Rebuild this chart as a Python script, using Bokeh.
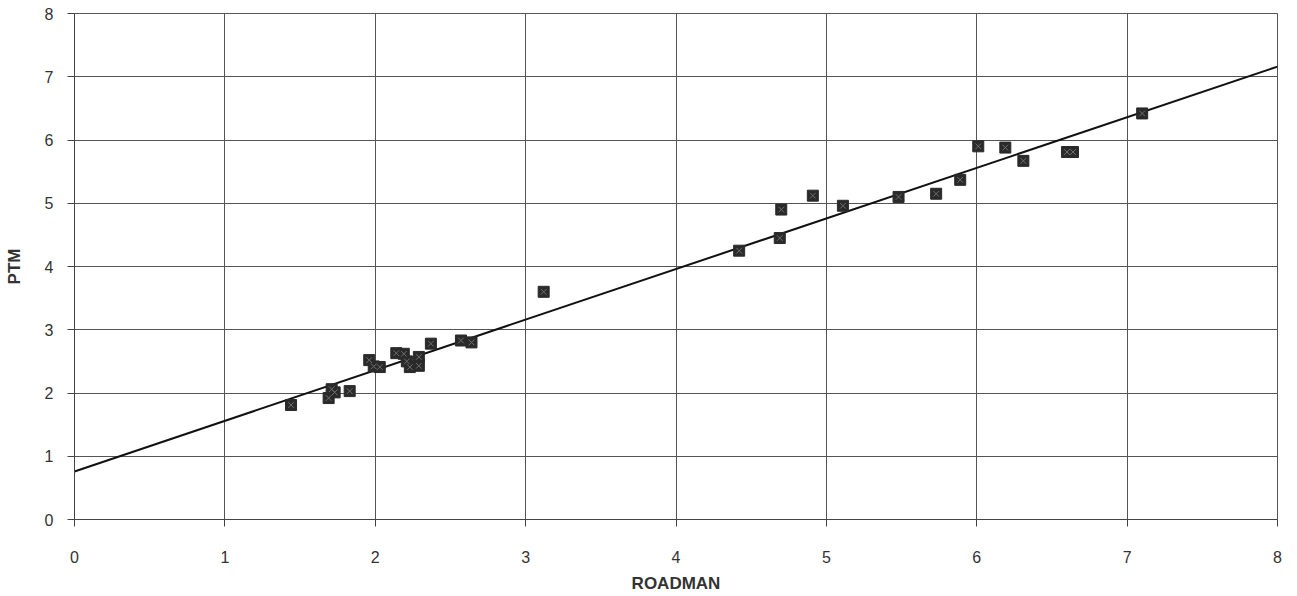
from bokeh.plotting import figure
from bokeh.models import Range1d, FixedTicker
from bokeh.embed import file_html
from bokeh.resources import INLINE

# Data
roadman = [1.44, 1.69, 1.71, 1.73, 1.83, 1.96, 1.99, 2.03, 2.14, 2.19, 2.21, 2.23,
           2.29, 2.29, 2.37, 2.57, 2.64, 3.12, 4.42, 4.69, 4.70, 4.91, 5.11, 5.48,
           5.73, 5.89, 6.01, 6.19, 6.31, 6.60, 6.64, 7.10]
ptm = [1.81, 1.92, 2.06, 2.01, 2.03, 2.52, 2.42, 2.41, 2.63, 2.62, 2.50, 2.41,
       2.57, 2.43, 2.78, 2.83, 2.80, 3.60, 4.25, 4.45, 4.90, 5.12, 4.96, 5.10,
       5.15, 5.37, 5.90, 5.88, 5.67, 5.81, 5.81, 6.42]
trend_intercept = 0.76
trend_slope = 0.80
trend_x = [0, 8]
axis_ticks = [0, 1, 2, 3, 4, 5, 6, 7, 8]

p = figure(width=1285, height=596, output_backend="svg", toolbar_location=None,
           x_range=Range1d(0, 8), y_range=Range1d(0, 8))
p.min_border_left = 74
p.min_border_right = 8
p.min_border_top = 13
p.min_border_bottom = 77
p.background_fill_color = "white"
p.border_fill_color = "white"
p.outline_line_color = "#555555"
p.outline_line_width = 1

for ax in (p.xaxis[0], p.yaxis[0]):
    ax.ticker = FixedTicker(ticks=axis_ticks)
    ax.minor_tick_line_color = None
    ax.major_tick_in = 0
    ax.major_tick_out = 7
    ax.major_tick_line_color = "#444444"
    ax.axis_line_color = "#444444"
    ax.major_label_text_font = "Liberation Sans"
    ax.major_label_text_font_size = "16px"
    ax.major_label_text_color = "#333333"
    ax.axis_label_text_font = "Liberation Sans"
    ax.axis_label_text_font_size = "17px"
    ax.axis_label_text_font_style = "bold"
    ax.axis_label_text_color = "#333333"

p.xaxis.axis_label = "ROADMAN"
p.yaxis.axis_label = "PTM"
p.xaxis.major_label_standoff = 24
p.yaxis.major_label_standoff = 14
p.xaxis.axis_label_standoff = 8
p.yaxis.axis_label_standoff = 18

p.xgrid.ticker = FixedTicker(ticks=axis_ticks)
p.ygrid.ticker = FixedTicker(ticks=axis_ticks)
p.grid.grid_line_color = "#555555"
p.grid.grid_line_width = 1

trend_y = [trend_intercept + trend_slope * x for x in trend_x]
p.line(trend_x, trend_y, line_color="#111111", line_width=2)

p.scatter(roadman, ptm, marker="square", size=11, fill_color="#2a2a2a",
          line_color="#2a2a2a")
p.scatter(roadman, ptm, marker="x", size=8, line_color="#6e6e6e", line_width=1)

open("out.html", "w").write(file_html(p, INLINE))
